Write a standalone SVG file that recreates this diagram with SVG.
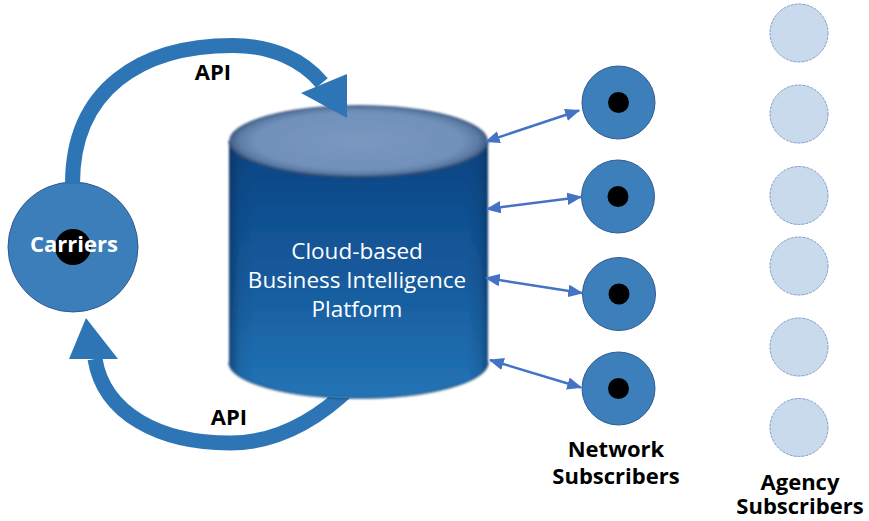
<svg xmlns="http://www.w3.org/2000/svg" width="869" height="521" viewBox="0 0 869 521">
  <style>
    .lbl { font-family: "Open Sans", "Noto Sans", "Liberation Sans", sans-serif; font-weight: 700; font-size: 22px; fill: #000; text-anchor: middle; }
    .plat { font-family: "Open Sans", "Noto Sans", "Liberation Sans", sans-serif; font-size: 22.5px; fill: #fff; text-anchor: middle; }
    .band { fill: none; stroke: #2E75B6; stroke-width: 15; }
    .head { fill: #2E75B6; }
    .net { fill: #3C7FBB; stroke: #2F5A93; stroke-width: 1; }
    .dot { fill: #000; }
    .agency { fill: #C8DAEC; stroke: #7F9BCB; stroke-width: 1; stroke-dasharray: 3 1; }
    .link { stroke: #4472C4; stroke-width: 2.5; fill: none; marker-start: url(#tip); marker-end: url(#tip); }
  </style>
  <defs>
    <marker id="tip" viewBox="0 0 6 5" refX="5.5" refY="2.5" markerWidth="6" markerHeight="5" orient="auto-start-reverse" markerUnits="strokeWidth">
      <path d="M0,0 L6,2.5 L0,5 z" fill="#4472C4"/>
    </marker>
    <linearGradient id="bodyV" x1="0" y1="0" x2="0" y2="1">
      <stop offset="0" stop-color="#0A4482"/>
      <stop offset="0.5" stop-color="#15599B"/>
      <stop offset="1" stop-color="#2374B6"/>
    </linearGradient>
    <linearGradient id="bodyH" x1="0" y1="0" x2="1" y2="0">
      <stop offset="0" stop-color="#06284F" stop-opacity="0.55"/>
      <stop offset="0.04" stop-color="#06284F" stop-opacity="0.1"/>
      <stop offset="0.1" stop-color="#06284F" stop-opacity="0"/>
      <stop offset="0.92" stop-color="#06284F" stop-opacity="0"/>
      <stop offset="0.97" stop-color="#06284F" stop-opacity="0.15"/>
      <stop offset="1" stop-color="#06284F" stop-opacity="0.5"/>
    </linearGradient>
    <radialGradient id="lid" cx="0.5" cy="0.5" r="0.5">
      <stop offset="0" stop-color="#7A98C0"/>
      <stop offset="0.8" stop-color="#7190BA"/>
      <stop offset="0.93" stop-color="#5B7AA4"/>
      <stop offset="1" stop-color="#3E5A80"/>
    </radialGradient>
    <filter id="soft" x="-5%" y="-5%" width="110%" height="110%">
      <feGaussianBlur stdDeviation="1"/>
    </filter>
    <!-- hides the lower API band where it passes behind the cylinder -->
    <mask id="behindCyl" maskUnits="userSpaceOnUse" x="0" y="0" width="869" height="521">
      <rect x="0" y="0" width="869" height="521" fill="#fff"/>
      <path d="M229,141 L229,362 A129.5,36 0 0 0 488,362 L488,141 Z" fill="#000"/>
    </mask>
  </defs>

  <!-- Lower API band (behind the platform) -->
  <g id="api-return-band">
    <path class="band" mask="url(#behindCyl)" d="M95,359 C104,414 160,443 230,443 C270,443 312,425 352,386"/>
  </g>

  <!-- Platform cylinder -->
  <g id="platform">
    <g filter="url(#soft)">
      <path d="M229,141 L229,362 A129.5,36 0 0 0 488,362 L488,141 Z" fill="url(#bodyV)"/>
      <path d="M229,141 L229,362 A129.5,36 0 0 0 488,362 L488,141 Z" fill="url(#bodyH)"/>
      <path d="M229,362 A129.5,36 0 0 0 488,362" fill="none" stroke="#0E3F72" stroke-width="2" opacity="0.6"/>
      <ellipse cx="358.5" cy="141" rx="129.5" ry="36" fill="url(#lid)"/>
      <path d="M229,141 A129.5,36 0 0 0 488,141" fill="none" stroke="#2C4A70" stroke-width="2" opacity="0.7"/>
    </g>
    <text class="plat" x="357" y="259">Cloud-based<tspan x="357" dy="29">Business Intelligence</tspan><tspan x="357" dy="29">Platform</tspan></text>
  </g>

  <!-- Carriers -->
  <g id="carriers">
    <circle cx="73" cy="247" r="65" fill="#3B7EB9" stroke="#2F5A93" stroke-width="1"/>
    <circle class="dot" cx="73" cy="247" r="18"/>
    <text class="lbl" x="74" y="252" style="fill:#fff">Carriers</text>
  </g>

  <!-- Network subscribers -->
  <g id="net-1"><circle class="net" cx="618.5" cy="102.5" r="36.5"/><circle class="dot" cx="618.5" cy="102.5" r="10.5"/></g>
  <g id="net-2"><circle class="net" cx="618" cy="196.5" r="36.5"/><circle class="dot" cx="618" cy="196.5" r="10.5"/></g>
  <g id="net-3"><circle class="net" cx="619" cy="294" r="36.5"/><circle class="dot" cx="619" cy="294" r="10.5"/></g>
  <g id="net-4"><circle class="net" cx="618.5" cy="388.5" r="36.5"/><circle class="dot" cx="618.5" cy="388.5" r="10.5"/></g>
  <g id="net-label">
    <text class="lbl" x="616" y="457">Network<tspan x="616" dy="27">Subscribers</tspan></text>
  </g>

  <!-- Agency subscribers -->
  <g id="agency-1"><circle class="agency" cx="799" cy="33" r="29"/></g>
  <g id="agency-2"><circle class="agency" cx="799" cy="114" r="29"/></g>
  <g id="agency-3"><circle class="agency" cx="799" cy="195.5" r="29"/></g>
  <g id="agency-4"><circle class="agency" cx="799" cy="266" r="29"/></g>
  <g id="agency-5"><circle class="agency" cx="799" cy="347" r="29"/></g>
  <g id="agency-6"><circle class="agency" cx="799" cy="427.5" r="29"/></g>
  <g id="agency-label">
    <text class="lbl" x="800" y="490">Agency<tspan x="800" dy="24">Subscribers</tspan></text>
  </g>

  <!-- Connectors -->
  <g id="connectors">
    <path class="band" d="M72.5,184 C72.5,90 140,45.5 233,45.5 C272,45.5 303,60 322,83"/>
    <polygon class="head" points="301,93 347,74 347,118"/>
    <polygon class="head" points="69,359 118,359 86,318"/>
    <text class="lbl" x="213" y="80">API</text>
    <text class="lbl" x="229" y="425">API</text>
    <line class="link" x1="486" y1="141.5" x2="579" y2="110.5"/>
    <line class="link" x1="487" y1="209" x2="581" y2="197"/>
    <line class="link" x1="486" y1="278" x2="582" y2="293"/>
    <line class="link" x1="490" y1="360" x2="581" y2="387.5"/>
  </g>
</svg>
